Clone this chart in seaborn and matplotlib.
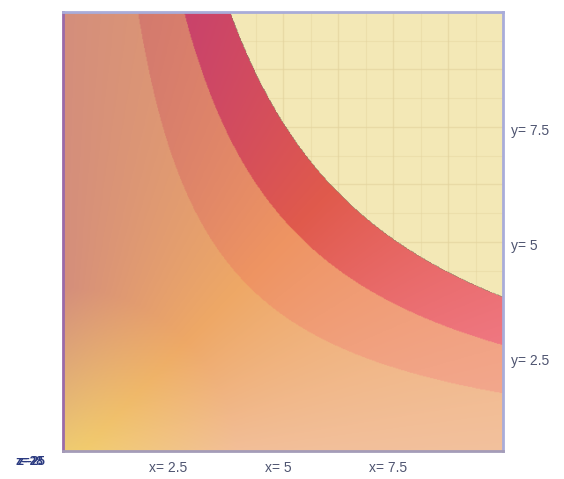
import numpy as np
import matplotlib
matplotlib.use("Agg")
import matplotlib.pyplot as plt
from matplotlib.colors import to_rgb
from matplotlib.ticker import MultipleLocator
import seaborn as sns

# ---- data ----
x_range = [0.0, 10.0]
y_range = [0.45, 10.0]
levels = [17.0, 27.5, 38.0]          # contour band limits of z = x*y
x_tick_values = [2.5, 5.0, 7.5]
x_tick_labels = ["x= 2.5", "x= 5", "x= 7.5"]
y_tick_values = [2.5, 5.0, 7.5]
y_tick_labels = ["y= 2.5", "y= 5", "y= 7.5"]
z_labels = ["z=-25", "z=28"]

# band colours from the x-axis side (t=0) to the y-axis side (t=1)
low_band_colors = ["#f3c2a0", "#eea866", "#d48e7c"]
mid_band_colors = ["#f4ac98", "#ee9462", "#cc7272"]
high_band_colors = ["#f7869c", "#e05a4c", "#bd367c"]
origin_color = "#f2d470"
background_color = "#f3e8b6"
grid_color = "#e2d29c"

sns.set_theme(style="white")
plt.rcParams["font.family"] = ["Liberation Sans", "DejaVu Sans"]

fig = plt.figure(figsize=(5.64, 4.79), dpi=100)
ax = fig.add_axes([63 / 564, 1 - 451 / 479, 440 / 564, 439 / 479])
ax.set_facecolor(background_color)

# surface grid
n = 500
xs = np.linspace(x_range[0], x_range[1], n)
ys = np.linspace(y_range[0], y_range[1], n)
X, Y = np.meshgrid(xs, ys)
Z = X * Y
T = np.arctan2(Y, X) / (np.pi / 2)
R = np.hypot(X, Y)


def band_rgb(colors, t):
    pal = sns.blend_palette(colors, n_colors=256)
    arr = np.array([to_rgb(c) for c in pal])
    idx = np.clip((t * 255).astype(int), 0, 255)
    return arr[idx]


img = np.zeros((n, n, 4))
low = band_rgb(low_band_colors, T)
w = np.clip(R / 4.0, 0, 1)[..., None] ** 0.9
low = np.array(to_rgb(origin_color)) * (1 - w) + low * w
mid = band_rgb(mid_band_colors, T)
high = band_rgb(high_band_colors, T)

m_low = Z < levels[0]
m_mid = (Z >= levels[0]) & (Z < levels[1])
m_high = (Z >= levels[1]) & (Z < levels[2])
img[m_low, :3] = low[m_low]
img[m_mid, :3] = mid[m_mid]
img[m_high, :3] = high[m_high]
img[..., 3] = (Z < levels[2]).astype(float)

ax.set_xlim(*x_range)
ax.set_ylim(*y_range)
ax.xaxis.set_minor_locator(MultipleLocator(0.625))
ax.yaxis.set_minor_locator(MultipleLocator(0.625))
ax.xaxis.set_major_locator(MultipleLocator(1.25))
ax.yaxis.set_major_locator(MultipleLocator(1.25))
ax.grid(True, which="major", color=grid_color, lw=1.0, alpha=0.6)
ax.grid(True, which="minor", color=grid_color, lw=0.8, alpha=0.4)
ax.set_axisbelow(True)
ax.tick_params(which="both", length=0, labelbottom=False, labelleft=False)

ax.imshow(img, extent=[x_range[0], x_range[1], y_range[0], y_range[1]],
          origin="lower", aspect="auto", interpolation="bilinear", zorder=2)

for side, col in [("top", "#a9acd9"), ("right", "#a9acd9"),
                  ("left", "#9a6aa8"), ("bottom", "#a49cb8")]:
    ax.spines[side].set_color(col)
    ax.spines[side].set_linewidth(2)
    ax.spines[side].set_visible(True)

text_color = "#4e5470"
for v, lab in zip(x_tick_values, x_tick_labels):
    ax.annotate(lab, xy=(v, 0), xycoords=("data", "axes fraction"),
                xytext=(-5, -17), textcoords="offset pixels",
                ha="center", va="center", fontsize=10, color=text_color)
for v, lab in zip(y_tick_values, y_tick_labels):
    ax.annotate(lab, xy=(1, v), xycoords=("axes fraction", "data"),
                xytext=(8, -4), textcoords="offset pixels",
                ha="left", va="center", fontsize=10, color=text_color)
for lab in z_labels:
    ax.annotate(lab, xy=(0, 0), xycoords="axes fraction",
                xytext=(-33, -11), textcoords="offset pixels",
                ha="center", va="center", fontsize=8.5, fontweight="bold",
                color="#2b3a80")

fig.savefig("out.png", dpi=100)
